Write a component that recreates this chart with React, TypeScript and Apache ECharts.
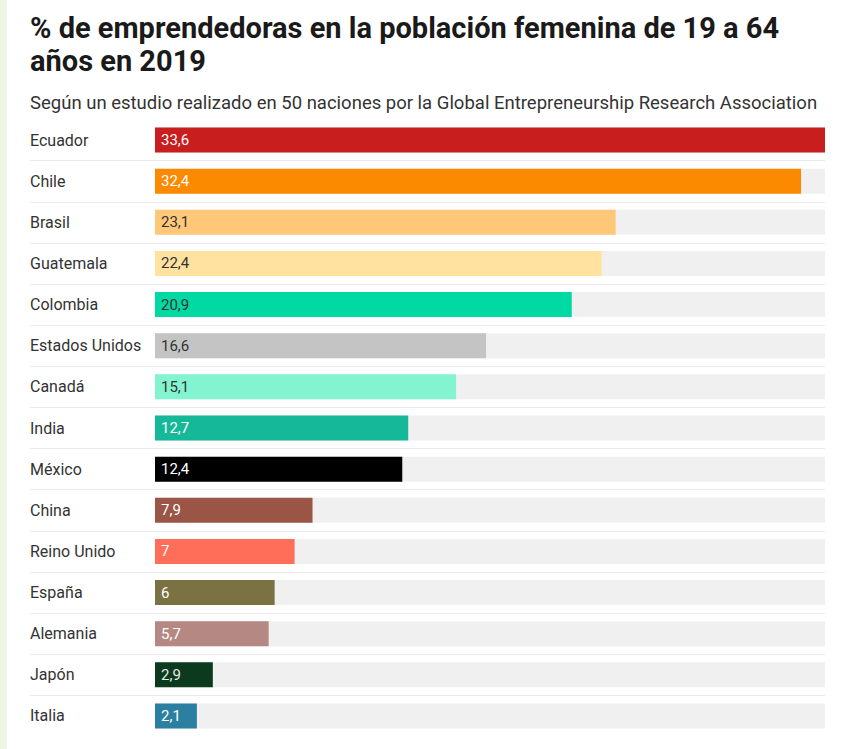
import React, { useEffect, useRef } from "react";
import * as echarts from "echarts";

const countries = [
  "Ecuador", "Chile", "Brasil", "Guatemala", "Colombia", "Estados Unidos", "Canadá",
  "India", "México", "China", "Reino Unido", "España", "Alemania", "Japón", "Italia",
];
const values = [33.6, 32.4, 23.1, 22.4, 20.9, 16.6, 15.1, 12.7, 12.4, 7.9, 7, 6, 5.7, 2.9, 2.1];
const barColors = [
  "#c81e1e", "#fb8a00", "#ffc878", "#ffe2a0", "#00d9a2", "#c4c4c4", "#82f5d0",
  "#15b99a", "#000000", "#9a5546", "#ff6e58", "#7b7243", "#b58883", "#0c3a1e", "#2b7fa0",
];
const labelColors = [
  "#ffffff", "#ffffff", "#333333", "#333333", "#333333", "#333333", "#333333",
  "#ffffff", "#ffffff", "#ffffff", "#ffffff", "#ffffff", "#ffffff", "#e8e8e8", "#ffffff",
];
const titleText = "% de emprendedoras en la población femenina de 19 a 64\naños en 2019";
const subtitleText = "Según un estudio realizado en 50 naciones por la Global Entrepreneurship Research Association";

const FONT = "Roboto, 'Noto Sans', sans-serif";

export default function App() {
  const ref = useRef<HTMLDivElement>(null);
  useEffect(() => {
    if (!ref.current) return;
    const chart = echarts.init(ref.current, null, { renderer: "svg" });
    const top = 119.5;
    const bottom = 749 - 736.5;
    const rowH = (736.5 - 119.5) / countries.length;
    chart.setOption({
      animation: false,
      backgroundColor: "#ffffff",
      textStyle: { fontFamily: FONT },
      graphic: [
        { type: "rect", left: 0, top: 0, shape: { width: 7, height: 749 }, style: { fill: "#eef5e3" } },
      ],
      title: [
        {
          text: titleText,
          left: 30,
          top: 11,
          padding: 0,
          textStyle: { fontFamily: FONT, fontSize: 29, fontWeight: "bold", color: "#1a1a1a", lineHeight: 33 },
        },
        {
          text: subtitleText,
          left: 30,
          top: 93,
          padding: 0,
          textStyle: { fontFamily: FONT, fontSize: 18.5, fontWeight: "normal", color: "#333333" },
        },
      ],
      grid: [
        { left: 30, right: 18, top, bottom: bottom + rowH, containLabel: false },
        { left: 155, right: 18, top, bottom, containLabel: false },
      ],
      xAxis: [
        { gridIndex: 0, type: "value", show: false, min: 0, max: 1 },
        { gridIndex: 1, type: "value", show: false, min: 0, max: 33.6 },
      ],
      yAxis: [
        {
          gridIndex: 0,
          type: "category",
          data: countries.slice(0, countries.length - 1),
          inverse: true,
          axisLine: { show: false },
          axisTick: { show: false },
          axisLabel: { show: false },
          splitLine: {
            show: true,
            interval: (i: number) => i > 0,
            lineStyle: { color: "#ebebeb", width: 1 },
          },
        },
        {
          gridIndex: 1,
          type: "category",
          data: countries,
          inverse: true,
          axisLine: { show: false },
          axisTick: { show: false },
          splitLine: { show: false },
          axisLabel: {
            align: "left",
            margin: 125,
            fontFamily: FONT,
            fontSize: 16,
            color: "#333333",
          },
        },
      ],
      series: [
        {
          type: "bar",
          xAxisIndex: 1,
          yAxisIndex: 1,
          barWidth: 25,
          showBackground: true,
          backgroundStyle: { color: "#f0f0f0" },
          data: values.map((v, i) => ({
            value: v,
            itemStyle: { color: barColors[i] },
            label: { color: labelColors[i] },
          })),
          label: {
            show: true,
            position: "insideLeft",
            distance: 6,
            fontFamily: FONT,
            fontSize: 15,
            formatter: (p: any) => String(p.value).replace(".", ","),
          },
        },
      ],
    });
    return () => chart.dispose();
  }, []);
  return (
    <div
      ref={ref}
      style={{ position: "fixed", left: 0, top: 0, width: 843, height: 749 }}
    />
  );
}
